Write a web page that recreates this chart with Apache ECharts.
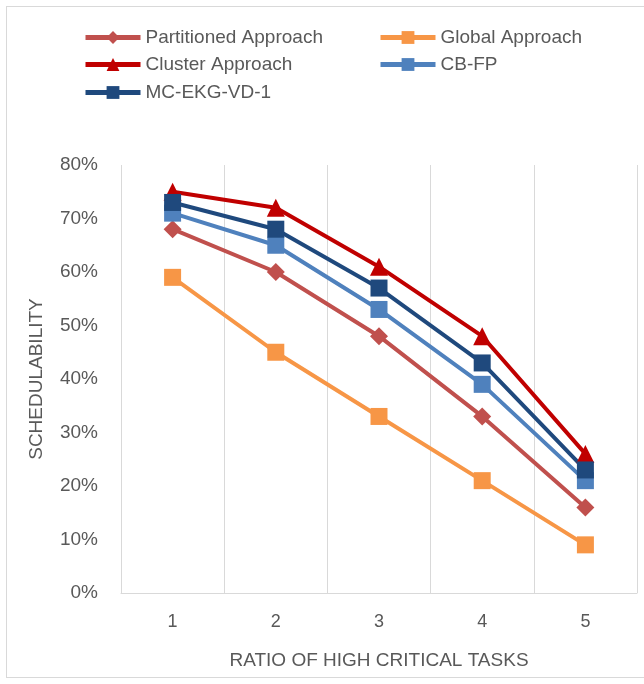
<!DOCTYPE html>
<html>
<head>
<meta charset="utf-8">
<script src="https://cdn.jsdelivr.net/npm/echarts@6/dist/echarts.min.js"></script>
<style>
  html, body { margin: 0; padding: 0; background: #fff; }
  #frame { position: absolute; left: 6px; top: 6px; width: 642px; height: 672px; border: 1px solid #d9d9d9; box-sizing: border-box; }
  #chart { width: 644px; height: 684px; }
</style>
</head>
<body>
<div id="frame"></div>
<div id="chart"></div>
<script>
// ratio of high critical tasks
const ratios = ['1', '2', '3', '4', '5'];

// schedulability (%)
const partitioned = [68, 60, 48, 33, 16];
const globalApp = [59, 45, 33, 21, 9];
const cluster = [75, 72, 61, 48, 26];
const cbfp = [71, 65, 53, 39, 21];
const mcEkg = [73, 68, 57, 43, 23];

const seriesNames = ['Partitioned Approach', 'Global Approach', 'Cluster Approach', 'CB-FP', 'MC-EKG-VD-1'];

const font = 'Liberation Sans';
const textColor = '#595959';

const chart = echarts.init(document.getElementById('chart'));

// one legend per entry so the two columns line up like the original
const legendPos = [
  { left: 78, top: 23 },
  { left: 373, top: 23 },
  { left: 78, top: 50 },
  { left: 373, top: 50 },
  { left: 78, top: 78 }
];
const legends = seriesNames.map((name, i) => ({
  data: [name],
  left: legendPos[i].left,
  top: legendPos[i].top,
  itemWidth: 55,
  itemHeight: 16,
  itemGap: 0,
  lineStyle: { width: 5 },
  textStyle: { fontFamily: font, fontSize: 19, color: textColor }
}));

function lineSeries(name, data, color, symbol, size) {
  return {
    name: name,
    type: 'line',
    data: data,
    symbol: symbol,
    symbolSize: size,
    lineStyle: { width: 4, color: color },
    itemStyle: { color: color },
    emphasis: { disabled: true }
  };
}

const option = {
  animation: false,
  legend: legends,
  grid: { left: 121, right: 7, top: 165, bottom: 91 },
  xAxis: {
    type: 'category',
    data: ratios,
    boundaryGap: true,
    name: 'RATIO OF HIGH CRITICAL TASKS',
    nameLocation: 'middle',
    nameGap: 58,
    nameTextStyle: { fontFamily: font, fontSize: 19, color: textColor },
    axisLine: { lineStyle: { color: '#d9d9d9', width: 1 } },
    axisTick: { show: false },
    axisLabel: { fontFamily: font, fontSize: 18, color: textColor, margin: 20 },
    splitLine: { show: true, lineStyle: { color: '#d9d9d9', width: 1 } }
  },
  yAxis: {
    type: 'value',
    min: 0,
    max: 80,
    interval: 10,
    name: 'SCHEDULABILITY',
    nameLocation: 'middle',
    nameGap: 75,
    nameTextStyle: { fontFamily: font, fontSize: 19, color: textColor },
    axisLine: { show: false },
    axisTick: { show: false },
    splitLine: { show: false },
    axisLabel: { fontFamily: font, fontSize: 19, color: textColor, margin: 23, formatter: '{value}%' }
  },
  series: [
    lineSeries(seriesNames[0], partitioned, '#C0504D', 'diamond', 18),
    lineSeries(seriesNames[1], globalApp, '#F79646', 'rect', 17),
    lineSeries(seriesNames[2], cluster, '#C00000', 'triangle', 18),
    lineSeries(seriesNames[3], cbfp, '#4F81BD', 'rect', 17),
    lineSeries(seriesNames[4], mcEkg, '#1F497D', 'rect', 17)
  ]
};

chart.setOption(option);
</script>
</body>
</html>
